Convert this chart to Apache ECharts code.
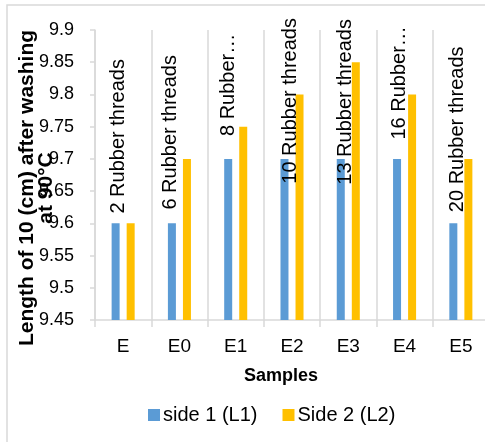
<!DOCTYPE html>
<html>
<head>
<meta charset="utf-8">
<script src="https://cdn.jsdelivr.net/npm/echarts@6/dist/echarts.min.js"></script>
<style>
  html, body { margin: 0; padding: 0; background: #fff; }
  #chart { width: 485px; height: 442px; }
</style>
</head>
<body>
<div id="chart"></div>
<script>
// Thread-length samples after washing at 90°C
const categories = ['E', 'E0', 'E1', 'E2', 'E3', 'E4', 'E5'];
const side1 = [9.6, 9.6, 9.7, 9.7, 9.7, 9.7, 9.6];
const side2 = [9.6, 9.7, 9.75, 9.8, 9.85, 9.8, 9.7];
const threadLabels = ['2 Rubber threads', '6 Rubber threads', '8 Rubber…', '10 Rubber threads',
                      '13 Rubber threads', '16 Rubber…', '20 Rubber threads'];
const seriesNames = ['side 1 (L1)', 'Side 2 (L2)'];
const yTitle = 'Length of 10 (cm) after washing\nat 90°C';

// label nudges (px): [from category centre, from top of the side-1 bar]
const labelNudge = [[-4.8, -87], [-9.4, -91], [-7.4, -74], [-2, -58], [-3.3, -57], [-4.6, -76], [-2.9, -94]];

const FONT = '"Liberation Sans", Arial, sans-serif';
const GRID = '#d9d9d9';

const chart = echarts.init(document.getElementById('chart'), null, { renderer: 'canvas' });

// outer chart-area frame
const frame = {
  type: 'rect',
  shape: { x: 7, y: 5, width: 500, height: 460 },
  style: { fill: 'none', stroke: GRID, lineWidth: 1.5 },
  silent: true, z: -10
};

chart.setOption({
  animation: false,
  textStyle: { fontFamily: FONT },
  graphic: [frame],
  grid: { left: 95, top: 30, bottom: 122, width: 394, containLabel: false, outerBoundsMode: 'none' },
  legend: {
    data: seriesNames,
    left: 148, top: 405, padding: 0,
    icon: 'rect', itemWidth: 12, itemHeight: 12, itemGap: 25,
    textStyle: { fontSize: 20, color: '#000', fontFamily: FONT, padding: [0, 0, 0, -2] }
  },
  xAxis: {
    type: 'category',
    data: categories,
    name: 'Samples',
    nameLocation: 'middle',
    nameGap: 47,
    nameTextStyle: { fontSize: 18, fontWeight: 'bold', color: '#000', fontFamily: FONT, padding: [0, 22, 0, 0] },
    axisLine: { show: true, lineStyle: { color: GRID, width: 1.5 } },
    axisTick: { show: true, length: 7, lineStyle: { color: GRID, width: 1.5 } },
    axisLabel: { fontSize: 19, color: '#000', margin: 17, fontFamily: FONT },
    splitLine: { show: true, lineStyle: { color: GRID, width: 1.5 } }
  },
  yAxis: {
    type: 'value',
    min: 9.45, max: 9.9, interval: 0.05,
    axisLine: { show: true, lineStyle: { color: GRID, width: 1.5 } },
    axisTick: { show: true, length: 5, lineStyle: { color: GRID, width: 1.5 } },
    axisLabel: { fontSize: 18, color: '#000', margin: 21, fontFamily: FONT },
    splitLine: { show: false }
  },
  series: [
    {
      name: seriesNames[0],
      type: 'bar',
      data: side1,
      barWidth: 8,
      barGap: '88%',
      itemStyle: { color: '#5b9bd5' },
      z: 3
    },
    {
      name: seriesNames[1],
      type: 'bar',
      data: side2,
      barWidth: 8,
      itemStyle: { color: '#ffc000' },
      z: 2
    }
  ]
});

// Vertical thread-count labels, anchored to each side-1 value through the axes
const labelTexts = side1.map((v, i) => {
  const p = chart.convertToPixel({ xAxisIndex: 0, yAxisIndex: 0 }, [i, v]);
  return {
    type: 'text',
    x: p[0] + labelNudge[i][0],
    y: p[1] + labelNudge[i][1],
    rotation: Math.PI / 2,
    style: {
      text: threadLabels[i],
      font: '20px ' + FONT,
      fill: '#000',
      align: 'center',
      verticalAlign: 'middle'
    },
    silent: true, z: 10
  };
});

// rotated value-axis title (two centred lines)
const axisTitle = {
  type: 'text',
  x: 37,
  y: 188,
  rotation: Math.PI / 2,
  style: {
    text: yTitle,
    font: 'bold 21px ' + FONT,
    lineHeight: 19,
    fill: '#000',
    align: 'center',
    verticalAlign: 'middle'
  },
  silent: true, z: 10
};

chart.setOption({ graphic: [frame, axisTitle].concat(labelTexts) }, { replaceMerge: ['graphic'] });
</script>
</body>
</html>
